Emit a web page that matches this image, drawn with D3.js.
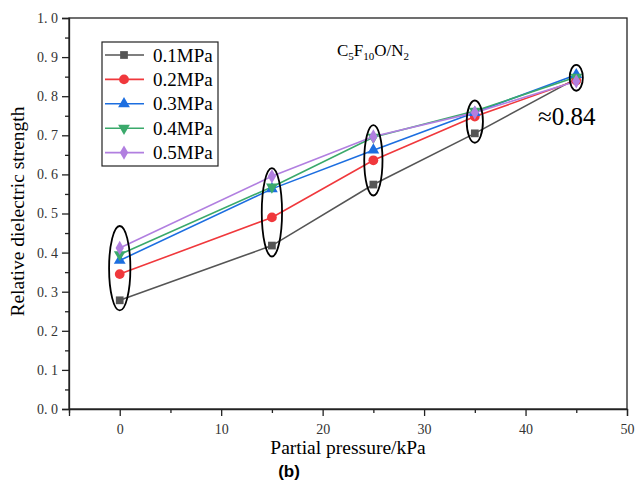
<!DOCTYPE html>
<html>
<head>
<meta charset="utf-8">
<script src="https://cdn.jsdelivr.net/npm/d3@7"></script>
<style>
  body { margin: 0; background: #fff; }
  svg { display: block; }
  text { font-family: "Liberation Serif", "Times New Roman", "DejaVu Serif", serif; }
  .tick text { font-size: 14px; fill: #333; }
</style>
</head>
<body>
<svg id="chart"></svg>
<script>
const pressures = [0, 15, 25, 35, 45];
const seriesNames = ['0.1MPa', '0.2MPa', '0.3MPa', '0.4MPa', '0.5MPa'];
const s01 = [0.278, 0.418, 0.574, 0.705, 0.845];
const s02 = [0.345, 0.490, 0.636, 0.748, 0.840];
const s03 = [0.380, 0.563, 0.662, 0.758, 0.855];
const s04 = [0.395, 0.568, 0.695, 0.762, 0.849];
const s05 = [0.412, 0.595, 0.697, 0.758, 0.838];
const seriesColors = ['#555555', '#f0383c', '#1c6ee0', '#3aa96b', '#b17fe0'];
const seriesShapes = [d3.symbolSquare, d3.symbolCircle, d3.symbolTriangle, 'down', d3.symbolDiamond];
const xTicks = [0, 10, 20, 30, 40, 50];
const yTicks = [0, 0.1, 0.2, 0.3, 0.4, 0.5, 0.6, 0.7, 0.8, 0.9, 1.0];
// ellipses round each cluster: centre x, centre y, half width (kPa), half height
const ringX = [0, 15, 25, 35, 45];
const ringY = [0.360, 0.503, 0.636, 0.735, 0.847];
const ringRx = [1.05, 1.0, 0.9, 0.8, 0.65];
const ringRy = [0.108, 0.113, 0.090, 0.054, 0.033];

const width = 636, height = 485;
const margin = { top: 18, right: 9, bottom: 76, left: 69 };
const serif = '"Liberation Serif", "Times New Roman", "DejaVu Serif", serif';

const svg = d3.select('#chart').attr('width', width).attr('height', height);

const x = d3.scaleLinear().domain([-5, 50]).range([margin.left, width - margin.right]);
const y = d3.scaleLinear().domain([0, 1]).range([height - margin.bottom, margin.top]);

const fmt = d => d3.format('.1f')(d).replace('.', '. ');

// frame
svg.append('rect')
    .attr('x', x(-5)).attr('y', y(1))
    .attr('width', x(50) - x(-5)).attr('height', y(0) - y(1))
    .attr('fill', 'none').attr('stroke', '#222').attr('stroke-width', 1.3);

// minor ticks
svg.append('g')
    .attr('transform', `translate(0, ${y(0)})`)
    .call(d3.axisBottom(x).tickValues(d3.range(-5, 50, 10)).tickSize(4).tickFormat(''))
    .call(g => g.select('.domain').remove())
    .call(g => g.selectAll('line').attr('stroke', '#222').attr('stroke-width', 1.3));
svg.append('g')
    .attr('transform', `translate(${x(-5)}, 0)`)
    .call(d3.axisLeft(y).tickValues(d3.range(0.05, 1, 0.1)).tickSize(4).tickFormat(''))
    .call(g => g.select('.domain').remove())
    .call(g => g.selectAll('line').attr('stroke', '#222').attr('stroke-width', 1.3));

// major ticks
svg.append('g')
    .attr('transform', `translate(0, ${y(0)})`)
    .call(d3.axisBottom(x).tickValues(xTicks).tickSize(7).tickPadding(8))
    .attr('font-family', serif)
    .call(g => g.select('.domain').attr('stroke', '#222').attr('stroke-width', 1.3))
    .call(g => g.selectAll('line').attr('stroke', '#222').attr('stroke-width', 1.3));
svg.append('g')
    .attr('transform', `translate(${x(-5)}, 0)`)
    .call(d3.axisLeft(y).tickValues(yTicks).tickSize(7).tickPadding(4).tickFormat(fmt))
    .attr('font-family', serif)
    .call(g => g.select('.domain').attr('stroke', '#222').attr('stroke-width', 1.3))
    .call(g => g.selectAll('line').attr('stroke', '#222').attr('stroke-width', 1.3));

// axis titles
svg.append('text')
    .attr('x', x(22.5)).attr('y', 454)
    .attr('text-anchor', 'middle')
    .attr('font-size', 19.5)
    .text('Partial pressure/kPa');
svg.append('text')
    .attr('transform', `translate(24, ${y(0.5) - 2}) rotate(-90)`)
    .attr('text-anchor', 'middle')
    .attr('font-size', 19.5)
    .text('Relative dielectric strength');
svg.append('text')
    .attr('x', 289).attr('y', 477)
    .attr('text-anchor', 'middle')
    .style('font-family', '"Liberation Sans", Arial, sans-serif')
    .attr('font-size', 17).attr('font-weight', 'bold')
    .text('(b)');

const allSeries = [s01, s02, s03, s04, s05];
const line = d3.line().x((d, i) => x(pressures[i])).y(d => y(d));

function marker(shape, size) {
    if (shape === 'down') {
        return d3.symbol(d3.symbolTriangle, size)();
    }
    return d3.symbol(shape, size)();
}

allSeries.forEach((vals, si) => {
    svg.append('path')
        .datum(vals)
        .attr('fill', 'none')
        .attr('stroke', seriesColors[si])
        .attr('stroke-width', 1.6)
        .attr('d', line);
});

allSeries.forEach((vals, si) => {
    svg.append('g').selectAll('path')
        .data(vals)
        .join('path')
        .attr('d', marker(seriesShapes[si], si === 1 ? 75 : 60))
        .attr('transform', (d, i) => `translate(${x(pressures[i])}, ${y(d)})` + (seriesShapes[si] === 'down' ? ' rotate(180)' : ''))
        .attr('fill', seriesColors[si]);
});

// ellipses
svg.append('g').selectAll('ellipse')
    .data(ringX)
    .join('ellipse')
    .attr('cx', d => x(d))
    .attr('cy', (d, i) => y(ringY[i]))
    .attr('rx', (d, i) => x(ringRx[i]) - x(0))
    .attr('ry', (d, i) => y(0) - y(ringRy[i]))
    .attr('fill', 'none')
    .attr('stroke', '#000')
    .attr('stroke-width', 1.8);

// legend
const legend = svg.append('g').attr('transform', 'translate(102, 42)');
legend.append('rect')
    .attr('width', 116).attr('height', 124)
    .attr('fill', '#fff').attr('stroke', '#222').attr('stroke-width', 1.2);
seriesNames.forEach((name, si) => {
    const ly = 13 + si * 24.4;
    legend.append('line')
        .attr('x1', 3).attr('x2', 42).attr('y1', ly).attr('y2', ly)
        .attr('stroke', seriesColors[si]).attr('stroke-width', 1.6);
    legend.append('path')
        .attr('d', marker(seriesShapes[si], si === 1 ? 75 : 60))
        .attr('transform', `translate(22, ${ly})` + (seriesShapes[si] === 'down' ? ' rotate(180)' : ''))
        .attr('fill', seriesColors[si]);
    legend.append('text')
        .attr('x', 51).attr('y', ly + 6.5)
        .attr('font-size', 19)
        .text(name);
});

// gas mixture label
const title = svg.append('text')
    .attr('x', 337).attr('y', 56)
    .attr('font-size', 17);
title.append('tspan').text('C');
title.append('tspan').attr('font-size', 11).attr('dy', 4).text('5');
title.append('tspan').attr('dy', -4).text('F');
title.append('tspan').attr('font-size', 11).attr('dy', 4).text('10');
title.append('tspan').attr('dy', -4).text('O/N');
title.append('tspan').attr('font-size', 11).attr('dy', 4).text('2');

svg.append('text')
    .attr('x', 538).attr('y', 125)
    .attr('font-size', 25)
    .text('≈0.84');
</script>
</body>
</html>
